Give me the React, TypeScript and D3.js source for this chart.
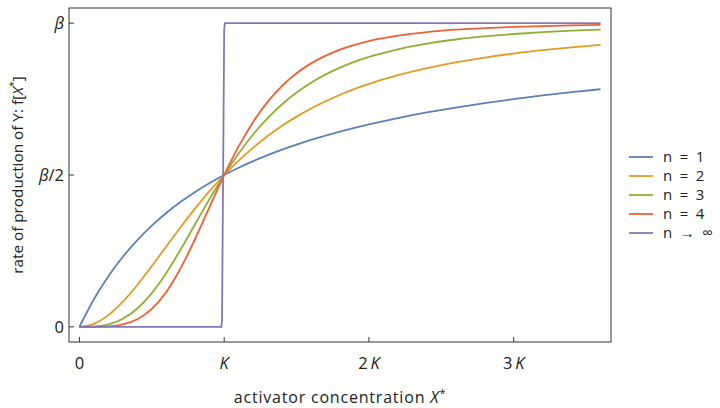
import React from "react";
import { scaleLinear, line, curveMonotoneX, curveLinear } from "d3";

// sample points (x in units of K, y in units of beta)
const xs = [0, 0.1, 0.2, 0.3, 0.4, 0.5, 0.6, 0.7, 0.8, 0.9, 1.0, 1.1, 1.2, 1.3, 1.4, 1.5, 1.6, 1.8, 2.0, 2.2, 2.4, 2.6, 2.8, 3.0, 3.2, 3.4, 3.6];
const n1 = [0, 0.0909, 0.1667, 0.2308, 0.2857, 0.3333, 0.375, 0.4118, 0.4444, 0.4737, 0.5, 0.5238, 0.5455, 0.5652, 0.5833, 0.6, 0.6154, 0.6429, 0.6667, 0.6875, 0.7059, 0.7222, 0.7368, 0.75, 0.7619, 0.7727, 0.7826];
const n2 = [0, 0.0099, 0.0385, 0.0826, 0.1379, 0.2, 0.2647, 0.3289, 0.3902, 0.4475, 0.5, 0.5475, 0.5902, 0.6283, 0.6622, 0.6923, 0.7191, 0.7642, 0.8, 0.8288, 0.8521, 0.8711, 0.8869, 0.9, 0.911, 0.9204, 0.9284];
const n3 = [0, 0.001, 0.0079, 0.0263, 0.0602, 0.1111, 0.1776, 0.2554, 0.3386, 0.4216, 0.5, 0.571, 0.6334, 0.6872, 0.7329, 0.7714, 0.8038, 0.8536, 0.8889, 0.9141, 0.9325, 0.9462, 0.9564, 0.9643, 0.9704, 0.9752, 0.979];
const n4 = [0, 0.0001, 0.0016, 0.008, 0.025, 0.0588, 0.1147, 0.1936, 0.2906, 0.3962, 0.5, 0.5942, 0.6746, 0.7407, 0.7935, 0.8351, 0.8676, 0.913, 0.9412, 0.9591, 0.9707, 0.9786, 0.984, 0.9878, 0.9906, 0.9926, 0.9941];
const stepX = [0, 0.98, 0.985, 1.0, 1.005, 3.6];
const stepY = [0, 0, 0.02, 0.98, 1, 1];

const labels = ["n = 1", "n = 2", "n = 3", "n = 4", "n \u2192 \u221e"];
const colors = ["#5E81B5", "#E19C24", "#8FB032", "#EB6235", "#8778B3"];

const xTicks = [0, 1, 2, 3];
const xTickLabels = ["0", "K", "2 K", "3 K"];
const yTicks = [0, 0.5, 1];

const font = "'Open Sans', sans-serif";

export default function App() {
  const width = 720;
  const height = 408;
  const frame = { left: 69, right: 611, top: 8, bottom: 342 };

  const xScale = scaleLinear().domain([-0.072, 3.672]).range([frame.left, frame.right]);
  const yScale = scaleLinear().domain([-0.05, 1.05]).range([frame.bottom, frame.top]);

  const smooth = line<[number, number]>()
    .x((d) => xScale(d[0]))
    .y((d) => yScale(d[1]))
    .curve(curveMonotoneX);
  const straight = line<[number, number]>()
    .x((d) => xScale(d[0]))
    .y((d) => yScale(d[1]))
    .curve(curveLinear);

  const series = [n1, n2, n3, n4].map((ys) => xs.map((x, i) => [x, ys[i]] as [number, number]));
  const step = stepX.map((x, i) => [x, stepY[i]] as [number, number]);

  const tickLabel = (t: string) => {
    if (t === "0") return "0";
    const parts = t.split(" ");
    if (parts.length === 1) return <tspan fontStyle="italic">K</tspan>;
    return (
      <>
        {parts[0] + "\u2009"}
        <tspan fontStyle="italic">K</tspan>
      </>
    );
  };

  const yTickLabel = (v: number) => {
    if (v === 0) return "0";
    if (v === 1) return <tspan fontStyle="italic">β</tspan>;
    return (
      <>
        <tspan fontStyle="italic">β</tspan>/2
      </>
    );
  };

  return (
    <svg
      width={width}
      height={height}
      style={{ position: "absolute", left: 0, top: 0, background: "#fff" }}
      fontFamily={font}
    >
      {/* curves */}
      <g fill="none" strokeWidth={1.8}>
        {series.map((d, i) => (
          <path key={i} d={smooth(d) || ""} stroke={colors[i]} />
        ))}
        <path d={straight(step) || ""} stroke={colors[4]} />
      </g>

      {/* frame */}
      <rect
        x={frame.left}
        y={frame.top}
        width={frame.right - frame.left}
        height={frame.bottom - frame.top}
        fill="none"
        stroke="#333"
        strokeWidth={1}
      />

      {/* x ticks */}
      {xTicks.map((t, i) => (
        <g key={i} transform={`translate(${xScale(t)},0)`}>
          <line y1={frame.bottom} y2={frame.bottom - 5} stroke="#333" />
          <text y={369} textAnchor="middle" fontSize={16.5} fill="#222">
            {tickLabel(xTickLabels[i])}
          </text>
        </g>
      ))}

      {/* y ticks */}
      {yTicks.map((t, i) => (
        <g key={i} transform={`translate(0,${yScale(t)})`}>
          <line x1={frame.left} x2={frame.left + 5} stroke="#333" />
          <text x={64} dy="0.35em" textAnchor="end" fontSize={16.5} fill="#222">
            {yTickLabel(t)}
          </text>
        </g>
      ))}

      {/* axis labels */}
      <text x={340} y={403} textAnchor="middle" fontSize={16} letterSpacing={0.8} fill="#222">
        activator concentration <tspan fontStyle="italic">X</tspan>
        <tspan dy={-6} fontSize={11}>*</tspan>
      </text>
      <text
        transform={`translate(23,${(frame.top + frame.bottom) / 2}) rotate(-90)`}
        textAnchor="middle"
        fontSize={15.3}
        fill="#222"
      >
        rate of production of Y: f[<tspan fontStyle="italic">X</tspan>
        <tspan dy={-6} fontSize={10.5}>*</tspan>
        <tspan dy={6}>]</tspan>
      </text>

      {/* legend */}
      {labels.map((l, i) => (
        <g key={i} transform={`translate(629,${157 + i * 19})`}>
          <line x1={0} x2={24} stroke={colors[i]} strokeWidth={1.8} />
          <text x={34} dy="0.35em" fontSize={15} fill="#222" style={{ whiteSpace: "pre" }}>
            {l.replace(/ /g, "\u2002")}
          </text>
        </g>
      ))}
    </svg>
  );
}
